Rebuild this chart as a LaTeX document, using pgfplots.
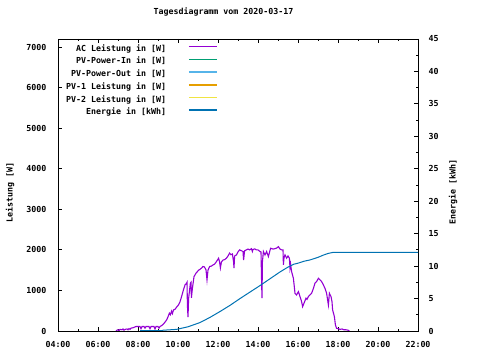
\documentclass[border=0pt]{standalone}
\usepackage{pgfplots}
\pgfplotsset{compat=1.18}
\usepackage{fontspec}
\setmainfont[UprightFont={* Bold}]{DejaVu Sans Mono}
\newcommand\gf{\fontsize{8.3bp}{10bp}\selectfont}
\definecolor{cAC}{HTML}{9400D3}
\definecolor{cIn}{HTML}{009E73}
\definecolor{cOut}{HTML}{56B4E9}
\definecolor{cPVa}{HTML}{E69F00}
\definecolor{cPVb}{HTML}{F0E442}
\definecolor{cE}{HTML}{0072B2}
\pgfplotsset{
  gp/.style={
    scale only axis, width=360bp, height=292bp,
    at={(0,0)}, anchor=south west,
    xmin=4, xmax=22,
    axis line style={line width=0.8bp, black},
    every tick/.style={black, line width=0.8bp},
    tick align=inside,
    major tick length=4bp, minor tick length=2bp,
    /pgf/number format/assume math mode=true,
    /pgf/number format/1000 sep={},
    scaled y ticks=false,
    tick label style={font=\gf},
    label style={font=\gf},
  }
}
\begin{document}
\begin{tikzpicture}[font=\gf]
\path[use as bounding box] (-58bp,-29bp) rectangle (422bp,331bp);
\begin{axis}[gp,
  ymin=0, ymax=7200,
  xtick={4,6,...,22},
  xticklabels={04:00,06:00,08:00,10:00,12:00,14:00,16:00,18:00,20:00,22:00},
  minor x tick num=1,
  xtick pos=both,
  xticklabel pos=lower,
  xticklabel style={yshift=-7bp},
  ytick={0,1000,...,7000},
  ytick pos=left,
  yticklabel style={xshift=-8bp},
  title={Tagesdiagramm vom 2020-03-17},
  title style={at={(axis description cs:0.4597,1.0719)}, anchor=center, font=\gf},
  ylabel={Leistung [W]},
  ylabel style={at={(axis description cs:-0.1333,0.475)}, anchor=center},
  legend plot pos=right,
  legend cell align=right,
  legend image code/.code={\path (0bp,-1bp); \draw[#1, line width=1.6bp] (0bp,2.5bp) -- (28bp,2.5bp);},
  legend style={draw=none, fill=none, inner sep=0pt, column sep=20bp, row sep=0pt,
    at={(axis description cs:0.4444,0.9877)}, anchor=north east,
    font=\gf,
    nodes={inner ysep=2bp, text height=6.5bp, text depth=2.2bp}},
]
\addplot[color=cAC, line width=1.1bp] coordinates {
(6.90,0) (6.95,20) (7.00,30) (7.05,10) (7.10,40) (7.20,30) (7.25,50) (7.30,20)
(7.35,40) (7.45,50) (7.50,30) (7.55,60) (7.60,40) (7.65,70) (7.75,80) (7.85,100)
(7.90,110) (8.00,110) (8.10,110) (8.15,60) (8.20,110) (8.30,110) (8.35,70) (8.40,110)
(8.55,110) (8.60,60) (8.65,110) (8.80,110) (8.85,50) (8.90,110) (9.00,110) (9.05,70)
(9.10,110) (9.20,140) (9.27,170) (9.35,220) (9.43,270) (9.50,350) (9.57,440) (9.62,400)
(9.68,490) (9.72,430) (9.78,520) (9.85,535) (9.95,600) (10.02,640) (10.10,720) (10.18,850)
(10.27,1010) (10.35,1135) (10.43,1180) (10.45,1200) (10.47,650) (10.50,340) (10.53,800) (10.57,970)
(10.62,1180) (10.65,1200) (10.67,815) (10.72,1050) (10.80,1340) (10.90,1425) (11.03,1500) (11.10,1520)
(11.17,1550) (11.25,1590) (11.32,1580) (11.40,1510) (11.45,1260) (11.50,1500) (11.58,1590) (11.67,1600)
(11.75,1630) (11.83,1650) (11.92,1710) (12.03,1795) (12.08,1700) (12.12,1555) (12.17,1700) (12.25,1750)
(12.33,1760) (12.42,1795) (12.50,1850) (12.58,1920) (12.65,1880) (12.72,1900) (12.78,1700) (12.80,1550)
(12.83,1850) (12.92,1875) (13.00,1950) (13.08,2000) (13.17,1980) (13.25,1960) (13.28,1750) (13.33,1980)
(13.42,2000) (13.50,2020) (13.58,2000) (13.67,2030) (13.72,1960) (13.75,2010) (13.83,2025) (13.92,2000)
(14.00,2000) (14.10,1960) (14.15,1950) (14.18,1200) (14.20,810) (14.22,1700) (14.27,1960) (14.35,1875)
(14.43,1960) (14.52,1835) (14.58,1950) (14.63,2040) (14.75,2020) (14.85,2030) (14.95,2050) (15.02,2080)
(15.10,2020) (15.18,2000) (15.25,2000) (15.27,1630) (15.30,1800) (15.35,1875) (15.43,1795) (15.50,1850)
(15.57,1795) (15.60,1555) (15.63,1650) (15.68,1465) (15.77,1300) (15.85,930) (15.93,890) (16.02,970)
(16.10,850) (16.18,725) (16.23,600) (16.30,685) (16.40,810) (16.45,780) (16.52,850) (16.60,890)
(16.68,930) (16.77,1050) (16.85,1180) (16.93,1220) (17.02,1300) (17.10,1260) (17.18,1220) (17.27,1135)
(17.35,1050) (17.43,930) (17.52,640) (17.57,930) (17.65,850) (17.70,725) (17.73,520) (17.82,355)
(17.87,150) (17.93,65) (18.00,60) (18.10,40) (18.20,50) (18.30,30) (18.40,30) (18.50,20) (18.57,0)
};
\addlegendentry{AC Leistung in [W]}
\addlegendimage{color=cIn}
\addlegendentry{PV-Power-In in [W]}
\addlegendimage{color=cOut}
\addlegendentry{PV-Power-Out in [W]}
\addlegendimage{color=cPVa}
\addlegendentry{PV-1 Leistung in [W]}
\addlegendimage{color=cPVb}
\addlegendentry{PV-2 Leistung in [W]}
\addlegendimage{color=cE}
\addlegendentry{Energie in [kWh]}
\end{axis}
\begin{axis}[gp,
  ymin=0, ymax=45,
  hide x axis,
  ytick={0,5,...,45},
  minor y tick num=1,
  ytick pos=right,
  yticklabel pos=right,
  yticklabel style={xshift=7bp},
  ylabel={Energie [kWh]},
  ylabel style={at={(axis description cs:1.0972,0.475)}, anchor=center, rotate=0},
]
\addplot[color=cE, line width=1bp] coordinates {
(8.10,0.05) (9.20,0.05) (9.25,0.12) (9.93,0.25) (10.5,0.65) (11.1,1.3) (11.6,2.1)
(12.1,3.0) (12.6,3.95) (13.1,5.0) (13.6,6.0) (14.1,7.0) (14.6,8.05) (15.1,9.1)
(15.5,9.85) (15.8,10.3) (16.0,10.45) (16.3,10.75) (16.6,10.95) (17.0,11.35)
(17.27,11.7) (17.5,11.95) (17.73,12.1) (22.0,12.1)
};
\end{axis}
\end{tikzpicture}
\end{document}
